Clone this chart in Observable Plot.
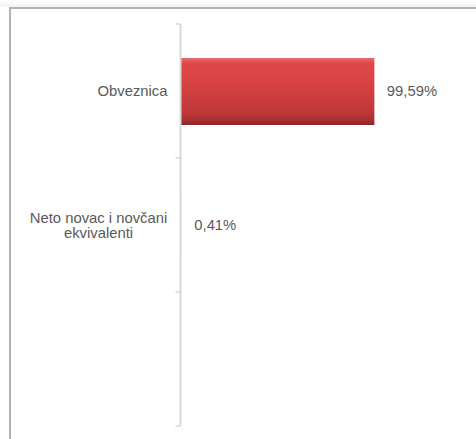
<!DOCTYPE html>
<html>
<head>
<meta charset="utf-8">
<script src="https://cdn.jsdelivr.net/npm/d3@7"></script>
<script src="https://cdn.jsdelivr.net/npm/@observablehq/plot@0.6"></script>
<style>
  html, body { margin: 0; padding: 0; background: #fff; }
  #wrap { position: relative; width: 476px; height: 439px; overflow: hidden; }
  #shade { position: absolute; left: 0; top: 0; width: 476px; height: 7px;
           background: linear-gradient(#ffffff, #f2f2f2); }
  #frame { position: absolute; left: 9px; top: 7px; width: 480px; height: 440px;
           border-top: 2px solid #b3b3b3; border-left: 2px solid #b3b3b3; box-sizing: border-box; }
  #chart { position: absolute; left: 0; top: 0; }
  svg { font-family: "Liberation Sans", Arial, sans-serif; }
</style>
</head>
<body>
<div id="wrap">
  <div id="shade"></div>
  <div id="frame"></div>
  <div id="chart"></div>
</div>
<script>
const categories = ["Obveznica", "Neto novac i novčani ekvivalenti", " "];
const categoryLabels = ["Obveznica", "Neto novac i novčani\nekvivalenti", ""];
const values = [99.59, 0.41];

const data = values.map((v, i) => ({category: categories[i], value: v}));
const fmt = v => v.toFixed(2).replace(".", ",") + "%";
const labelOf = d => categoryLabels[categories.indexOf(d)];

const textColor = "#595959";
const axisColor = "#d9d9d9";

// Axis bracket drawn from the y scale (band edges) and x scale (zero)
const bracket = (index, scales, values, dims) => {
  const g = d3.create("svg:g");
  const x0 = scales.x(0) - 0.5;
  const edges = categories.map(c => scales.y(c));
  edges.push(scales.y(categories[categories.length - 1]) + scales.y.bandwidth());
  g.append("line")
    .attr("x1", x0).attr("x2", x0)
    .attr("y1", edges[0]).attr("y2", edges[edges.length - 1])
    .attr("stroke", axisColor).attr("stroke-width", 2);
  edges.forEach(e => {
    g.append("line")
      .attr("x1", x0 - 5).attr("x2", x0)
      .attr("y1", e).attr("y2", e)
      .attr("stroke", axisColor).attr("stroke-width", 1.5);
  });
  return g.node();
};

// Gradient defs for bevelled red bar
const defs = () => {
  const svg = d3.create("svg:defs");
  const lg = svg.append("linearGradient").attr("id", "barGrad")
    .attr("x1", 0).attr("y1", 0).attr("x2", 0).attr("y2", 1);
  [[0, "#e86a6a"], [0.08, "#df4848"], [0.35, "#d94343"], [0.8, "#bf3838"], [0.93, "#a83030"], [1, "#8a2626"]]
    .forEach(([o, c]) => lg.append("stop").attr("offset", o).attr("stop-color", c));
  const f = svg.append("filter").attr("id", "barShadow")
    .attr("x", "-5%").attr("y", "-10%").attr("width", "110%").attr("height", "130%");
  f.append("feDropShadow").attr("dx", 0).attr("dy", 1.5).attr("stdDeviation", 1.2)
    .attr("flood-color", "#000").attr("flood-opacity", 0.3);
  return svg.node();
};

const plot = Plot.plot({
  width: 476,
  height: 439,
  marginLeft: 181,
  marginRight: 62,
  marginTop: 23,
  marginBottom: 12,
  style: {background: "transparent", fontSize: "14.8px", fontFamily: "'Liberation Sans', Arial, sans-serif"},
  x: {domain: [0, 120], axis: null},
  y: {domain: categories, padding: 0, axis: null},
  marks: [
    defs,
    Plot.barX(data.filter(d => d.value >= 1), {
      x: "value", y: "category",
      fill: "url(#barGrad)",
      insetTop: 34, insetBottom: 33,
      style: {filter: "url(#barShadow)"}
    }),
    Plot.barX(data.filter(d => d.value < 1), {
      x: "value", y: "category",
      fill: "#c0c0c0", fillOpacity: 0.15,
      insetTop: 34, insetBottom: 33
    }),
    bracket,
    Plot.text(data, {
      x: "value", y: "category",
      text: d => fmt(d.value),
      textAnchor: "start", dx: 12,
      fill: textColor, fontSize: 14.8
    }),
    Plot.axisY([categories[0]], {
      tickSize: 0, tickPadding: 14, textAnchor: "end",
      tickFormat: labelOf, fill: textColor, fontSize: 14.8, label: null
    }),
    Plot.axisY([categories[1]], {
      tickSize: 0, tickPadding: 0, textAnchor: "middle", dx: -83,
      tickFormat: labelOf, fill: textColor, fontSize: 14.8, lineHeight: 1.05, label: null
    })
  ]
});
document.getElementById("chart").appendChild(plot);
</script>
</body>
</html>
